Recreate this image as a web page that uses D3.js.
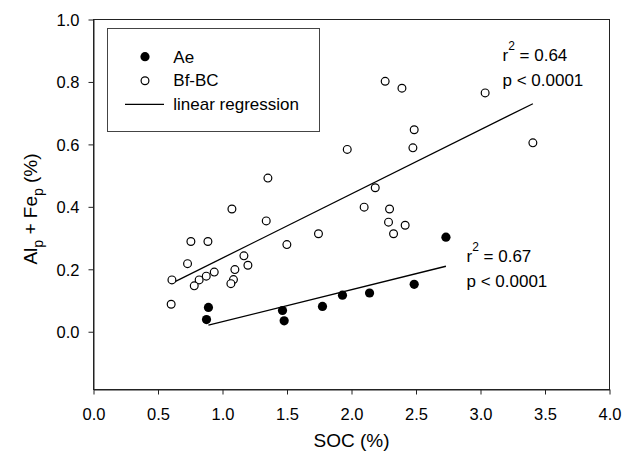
<!DOCTYPE html>
<html><head><meta charset="utf-8">
<script src="https://cdn.jsdelivr.net/npm/d3@7"></script>
<style>
body{margin:0;background:#fff;}
text{font-family:"Liberation Sans",Arial,sans-serif;fill:#000;}
</style></head>
<body><svg id="c" width="622" height="455"></svg>
<script>
// Data
const aeSOC = [0.876, 0.891, 1.465, 1.478, 1.775, 1.930, 2.140, 2.486, 2.732];
const aeVal = [0.039, 0.078, 0.068, 0.035, 0.081, 0.117, 0.124, 0.152, 0.303];
const bfSOC = [1.352, 1.073, 1.339, 0.755, 0.887, 1.744, 1.499, 0.729, 1.166, 1.197,
               0.608, 0.819, 0.874, 0.936, 1.096, 1.085, 1.065, 0.781, 0.602, 1.967,
               2.184, 2.098, 2.295, 2.287, 2.416, 2.326, 2.476, 2.261, 2.391, 3.036,
               2.486, 3.406];
const bfVal = [0.492, 0.393, 0.355, 0.289, 0.289, 0.314, 0.279, 0.218, 0.243, 0.213,
               0.166, 0.166, 0.178, 0.191, 0.199, 0.167, 0.154, 0.147, 0.088, 0.584,
               0.461, 0.399, 0.393, 0.351, 0.341, 0.314, 0.589, 0.802, 0.780, 0.765,
               0.647, 0.605];
// regression lines: [slope, intercept, xmin, xmax]
const aeFit = [0.1025, -0.0703, 0.891, 2.732];
const bfFit = [0.2054, 0.0307, 0.605, 3.406];
const xTicks = [0, 0.5, 1, 1.5, 2, 2.5, 3, 3.5, 4];
const yTicks = [0, 0.2, 0.4, 0.6, 0.8, 1.0];
const legendLabels = ["Ae", "Bf-BC", "linear regression"];
const statsBf = ["0.64", "p < 0.0001"];
const statsAe = ["0.67", "p < 0.0001"];

const svg = d3.select("#c");
const L = 93.5, R = 609.5, T = 19.5, B = 389.5;
const x = d3.scaleLinear().domain([0, 4]).range([L, R]);
const y = d3.scaleLinear().domain([-0.185, 1.0]).range([B, T]);
const axisCol = "#222";

// frame
svg.append("rect").attr("x", L).attr("y", T).attr("width", R - L).attr("height", B - T)
  .attr("fill", "none").attr("stroke", axisCol).attr("stroke-width", 1);

const fmt = d3.format(".1f");
const gx = svg.append("g").attr("transform", `translate(0,${B})`)
  .call(d3.axisBottom(x).tickValues(xTicks).tickFormat(fmt).tickSize(5).tickSizeOuter(0).tickPadding(14));
const gy = svg.append("g").attr("transform", `translate(${L},0)`)
  .call(d3.axisLeft(y).tickValues(yTicks).tickFormat(fmt).tickSize(5).tickSizeOuter(0).tickPadding(9));
[gx, gy].forEach(g => {
  g.select(".domain").attr("stroke", axisCol);
  g.selectAll(".tick line").attr("stroke", axisCol);
  g.selectAll(".tick text").style("font-size", "16.5px").attr("fill", "#000")
    .style("font-family", '"Liberation Sans",Arial,sans-serif');
});
gy.selectAll(".tick text").attr("dy", "0.35em");

// axis titles
svg.append("text").attr("x", (L + R) / 2).attr("y", 447).attr("text-anchor", "middle")
  .style("font-size", "19px").text("SOC (%)");
const yl = svg.append("text").attr("transform", "translate(36.5,209) rotate(-90)")
  .attr("text-anchor", "middle").style("font-size", "19px");
yl.append("tspan").text("Al");
yl.append("tspan").attr("dy", 6).style("font-size", "14px").text("p");
yl.append("tspan").attr("dy", -6).text(" + Fe");
yl.append("tspan").attr("dy", 6).style("font-size", "14px").text("p");
yl.append("tspan").attr("dy", -6).text(" (%)");

// regression lines
const line = d3.line().x(d => x(d[0])).y(d => y(d[1]));
[aeFit, bfFit].forEach(f => {
  const pts = [[f[2], f[0] * f[2] + f[1]], [f[3], f[0] * f[3] + f[1]]];
  svg.append("path").attr("d", line(pts)).attr("stroke", "#000").attr("stroke-width", 1.3).attr("fill", "none");
});

// points
const bf = bfSOC.map((s, i) => [s, bfVal[i]]);
const ae = aeSOC.map((s, i) => [s, aeVal[i]]);
svg.append("g").selectAll("circle").data(bf).join("circle")
  .attr("cx", d => x(d[0])).attr("cy", d => y(d[1])).attr("r", 3.9)
  .attr("fill", "#fff").attr("stroke", "#000").attr("stroke-width", 1.2);
svg.append("g").selectAll("circle").data(ae).join("circle")
  .attr("cx", d => x(d[0])).attr("cy", d => y(d[1])).attr("r", 4.6)
  .attr("fill", "#000");

// legend
const lg = svg.append("g");
lg.append("rect").attr("x", 107.5).attr("y", 28.5).attr("width", 212).attr("height", 103)
  .attr("fill", "#fff").attr("stroke", "#444").attr("stroke-width", 1);
lg.append("circle").attr("cx", 145).attr("cy", 56.7).attr("r", 4.6).attr("fill", "#000");
lg.append("circle").attr("cx", 145).attr("cy", 80.7).attr("r", 3.9).attr("fill", "#fff")
  .attr("stroke", "#000").attr("stroke-width", 1.2);
lg.append("line").attr("x1", 125).attr("x2", 164).attr("y1", 104.3).attr("y2", 104.3)
  .attr("stroke", "#000").attr("stroke-width", 1.3);
[62.7, 86, 110].forEach((yy, i) => {
  lg.append("text").attr("x", 173.3).attr("y", yy).style("font-size", "17px").text(legendLabels[i]);
});

// statistics annotations
function stats(x0, y0, vals) {
  const t = svg.append("text").attr("x", x0).attr("y", y0).style("font-size", "17px");
  t.append("tspan").text("r");
  t.append("tspan").attr("dy", -10.5).style("font-size", "12px").text("2");
  t.append("tspan").attr("dy", 10.5).text(" = " + vals[0]);
  svg.append("text").attr("x", x0).attr("y", y0 + 25.5).style("font-size", "17px").text(vals[1]);
}
stats(502.5, 60.7, statsBf);
stats(466.5, 261.7, statsAe);
</script></body></html>
